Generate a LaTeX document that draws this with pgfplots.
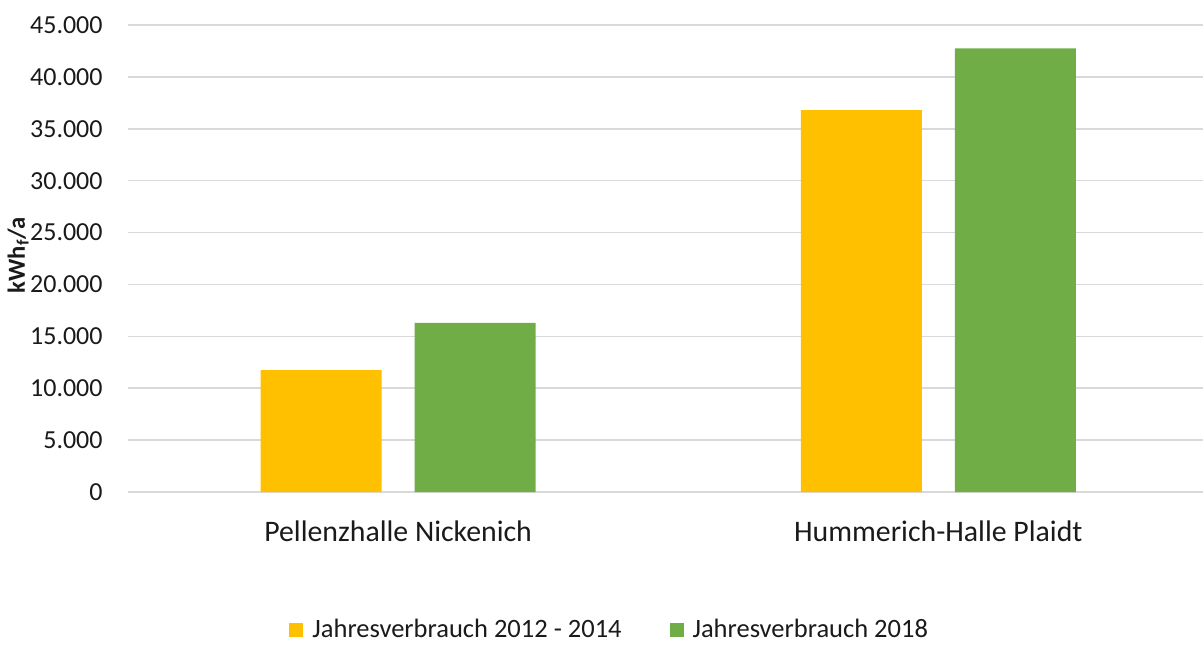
\documentclass[border=0pt]{standalone}
\usepackage{pgfplots}
\pgfplotsset{compat=1.18}
\usepackage{fontspec}
\setmainfont{Carlito}
\definecolor{xlyellow}{HTML}{FFC000}
\definecolor{xlgreen}{HTML}{70AD47}
\definecolor{gridgray}{HTML}{D9D9D9}
\definecolor{txt}{HTML}{1A1A1A}

\begin{document}
\begin{tikzpicture}
% 1 px of the reference = 0.5pt
\useasboundingbox (0,0) rectangle (601.5pt,322pt);
\begin{axis}[
  at={(64pt,76pt)}, anchor=south west,
  scale only axis,
  width=537.5pt, height=233.5pt,
  ybar=16.5pt, bar width=60.5pt,
  xmin=-0.5, xmax=1.49,
  ymin=0, ymax=45000,
  ytick={0,5000,...,45000},
  xtick={0,1},
  xticklabels={Pellenzhalle Nickenich, Hummerich-Halle Plaidt},
  ymajorgrids=true,
  grid style={gridgray, line width=0.8pt},
  axis line style={draw=none},
  major tick length=0pt,
  /pgf/number format/.cd, 1000 sep={.}, assume math mode=true,
  /pgfplots/.cd,
  scaled y ticks=false,
  tick label style={font=\fontsize{13}{15}\selectfont, text=txt},
  yticklabel style={anchor=east, inner sep=0pt, xshift=-12.5pt},
  xticklabel style={anchor=north, inner sep=0pt, yshift=-14.3pt,
    font=\fontsize{14.9}{17}\selectfont},
  ylabel={\textbf{kWh\textsubscript{f}/a}},
  ylabel style={at={(axis description cs:-0.1023,0.507)}, anchor=center,
    font=\fontsize{12.3}{14}\selectfont, text=txt},
  legend columns=2,
  legend style={at={(axis description cs:0.449,-0.296)}, anchor=center,
    draw=none, font=\fontsize{13.25}{15}\selectfont, text=txt,
    /tikz/every even column/.append style={column sep=22pt}},
  legend image code/.code={\fill[#1] (0pt,-3.5pt) rectangle (7pt,3.5pt);
    \path (9.5pt,0pt);},
]
\addplot[fill=xlyellow, draw=none] coordinates {(0,11750) (1,36800)};
\addplot[fill=xlgreen, draw=none] coordinates {(0,16300) (1,42750)};
\legend{Jahresverbrauch 2012 - 2014, Jahresverbrauch 2018}
\end{axis}
\end{tikzpicture}
\end{document}
